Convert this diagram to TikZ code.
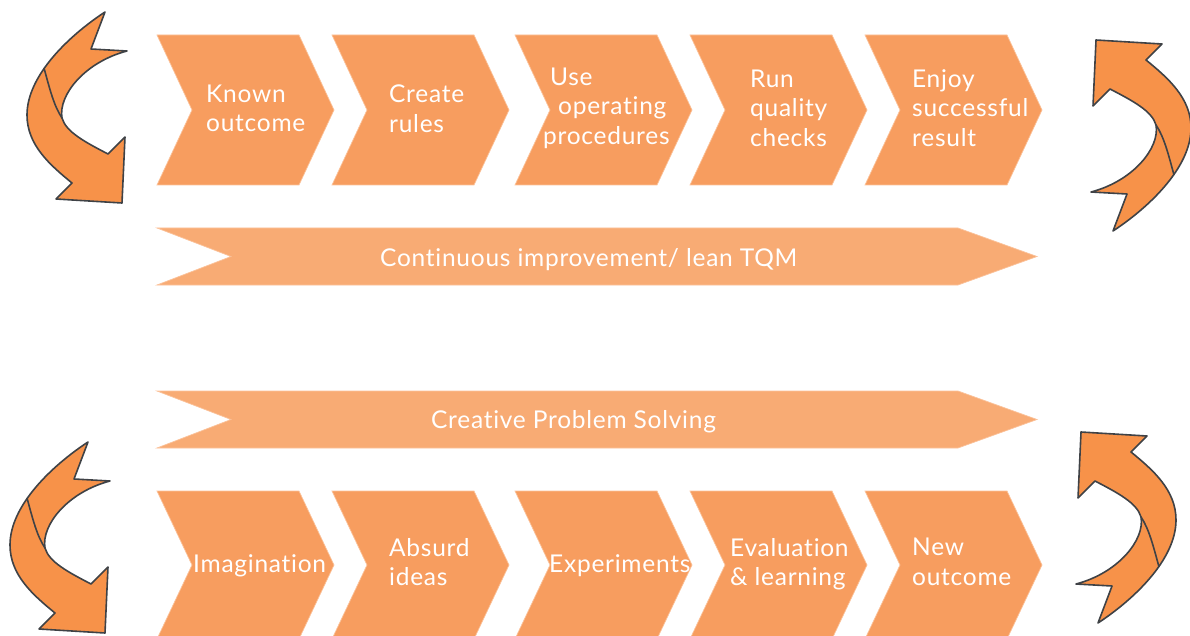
\documentclass[tikz,border=0pt]{standalone}
\usepackage{fontspec}
\setmainfont{Lato}[Ligatures={NoCommon,NoRare}, LetterSpace=3]
\definecolor{chevfill}{HTML}{F79D5F}
\definecolor{banfill}{HTML}{F8AB74}
\definecolor{curlfill}{HTML}{F79249}
\definecolor{curlline}{HTML}{3F4246}
\definecolor{edgelight}{HTML}{FBC29A}
\tikzset{
  chevron/.style={fill=chevfill, draw=edgelight, line width=0.7pt},
  banner/.style={fill=banfill, draw=edgelight, line width=0.7pt},
  lbl/.style={text=white, inner sep=0pt, font=\fontsize{24.5}{29.5}\selectfont, align=left},
  curl/.pic={
    \draw[fill=curlfill, draw=curlline, line width=1.6pt, line join=round]
      (105,12) .. controls (70,35) and (27,75) .. (27,115)
      .. controls (27,145) and (50,165) .. (72,183)
      -- (56,199) -- (122,203) -- (125,137) -- (108,154)
      .. controls (85,142) and (66,132) .. (62,118)
      .. controls (58,95) and (85,62) .. (127,51)
      -- (91,49) -- cycle;
    \draw[curlline, line width=1.6pt] (44,68) .. controls (50,90) and (54,106) .. (62,118);
  }
}
\begin{document}
\begin{tikzpicture}[x=1pt,y=-1pt]
\useasboundingbox (0,0) rectangle (1190,636);
\clip (0,0) rectangle (1190,636);
% chevrons
\foreach \L in {157,332,515,690,865}{
  \draw[chevron] (\L,35) -- (\L+142,35) -- (\L+177,110) -- (\L+142,185) -- (\L,185) -- (\L+35,110) -- cycle;
  \draw[chevron] (\L,491) -- (\L+142,491) -- (\L+177,565) -- (\L+142,639) -- (\L,639) -- (\L+35,565) -- cycle;
}
% banners
\draw[banner] (157,228) -- (958,228) -- (1037,256.5) -- (958,285) -- (157,285) -- (231,256.5) -- cycle;
\draw[banner] (157,391) -- (958,391) -- (1037,419.5) -- (958,448) -- (157,448) -- (231,419.5) -- cycle;
% labels top
\node[lbl, anchor=west] (t1) at (206,108.5) {Known\\outcome};
\node[lbl, anchor=west] (t2) at (389,108.5) {Create\\rules};
\node[lbl, anchor=west] (t3) at (543,108) {\hspace*{7pt}Use\\\hspace*{15pt}operating\\procedures};
\node[lbl, anchor=west] (t4) at (750,108) {Run\\quality\\checks};
\node[lbl, anchor=west] (t5) at (912,108) {Enjoy\\successful\\result};
% banner labels
\node[lbl, anchor=base west] (b1) at (380,266) {Continuous improvement/ lean TQM};
\node[lbl, anchor=base west] (b2) at (431,428) {Creative Problem Solving};
% labels bottom
\node[lbl, anchor=base west] (u1) at (193,572) {Imagination};
\node[lbl, anchor=west] (u2) at (389,562) {Absurd\\ideas};
\node[lbl, anchor=base west] (u3) at (549,572) {Experiments};
\node[lbl, anchor=west] (u4) at (730,564) {Evaluation\\\&~learning};
\node[lbl, anchor=west] (u5) at (912,562) {New\\outcome};
% curved arrows
\pic at (0,0) {curl};
\pic[rotate=180] at (1218,243) {curl};
\pic at (-17,430) {curl};
\pic[rotate=180] at (1203,635) {curl};
\end{tikzpicture}
\end{document}
